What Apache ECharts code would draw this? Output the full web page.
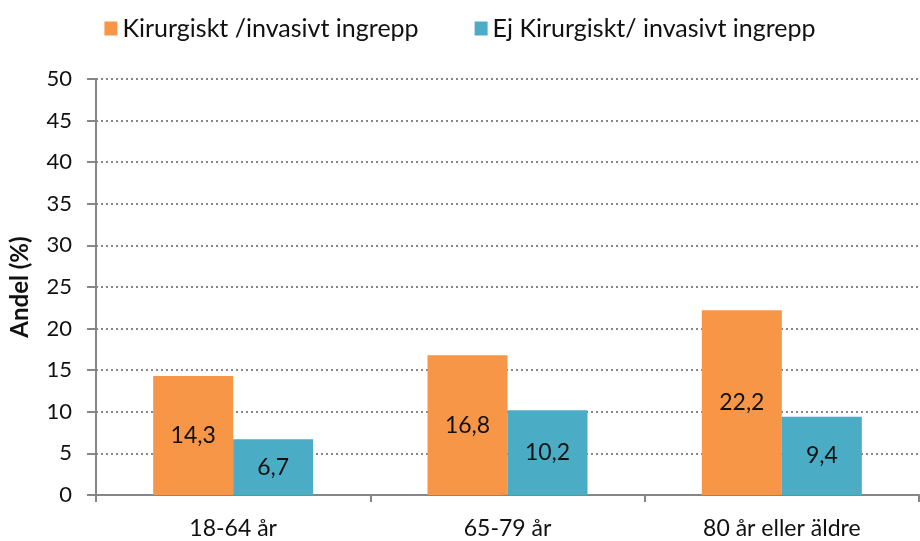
<!DOCTYPE html>
<html><head><meta charset="utf-8">
<script src="https://cdn.jsdelivr.net/npm/echarts@6/dist/echarts.min.js"></script>
<style>html,body{margin:0;padding:0;background:#fff}#c{width:920px;height:541px}</style>
</head><body><div id="c"></div>
<script>
const categories = ['18-64 år', '65-79 år', '80 år eller äldre'];
const seriesNames = ['Kirurgiskt /invasivt ingrepp', 'Ej Kirurgiskt/ invasivt ingrepp'];
const kirurgiskt = [14.3, 16.8, 22.2];
const ejKirurgiskt = [6.7, 10.2, 9.4];
const fmt = v => String(v.value).replace('.', ',');
const font = 'Lato, "Open Sans", sans-serif';
const chart = echarts.init(document.getElementById('c'), null, {renderer: 'canvas'});
const lbl = {show: true, position: 'inside', formatter: fmt, color: '#111', fontSize: 23, fontFamily: font};
chart.setOption({
  animation: false,
  textStyle: {fontFamily: font},
  legend: {
    top: 11, left: 'center', itemGap: 56, itemWidth: 13, itemHeight: 14,
    icon: 'rect',
    textStyle: {fontSize: 25, color: '#111', fontFamily: font},
    data: seriesNames
  },
  grid: {left: 96, right: 1, top: 79, bottom: 46, containLabel: false},
  xAxis: {
    type: 'category', data: categories,
    axisLine: {lineStyle: {color: '#868686', width: 2}},
    axisTick: {show: true, length: 7, lineStyle: {color: '#868686', width: 2}},
    axisLabel: {fontSize: 23, color: '#111', margin: 22, fontFamily: font}
  },
  yAxis: {
    type: 'value', min: 0, max: 50, interval: 5,
    name: 'Andel (%)', nameLocation: 'middle', nameGap: 64, nameRotate: 90,
    nameTextStyle: {fontSize: 24, fontWeight: 'bold', color: '#111', fontFamily: font},
    axisLine: {show: true, lineStyle: {color: '#868686', width: 2}},
    axisTick: {show: true, length: 9, lineStyle: {color: '#868686', width: 2}},
    axisLabel: {fontSize: 22, color: '#111', margin: 24, fontFamily: font},
    splitLine: {show: true, lineStyle: {color: '#868686', width: 2, type: [2, 3]}}
  },
  series: [
    {name: seriesNames[0], type: 'bar', data: kirurgiskt, barWidth: 80, barGap: '0%',
     itemStyle: {color: '#F79646'}, label: lbl},
    {name: seriesNames[1], type: 'bar', data: ejKirurgiskt, barWidth: 80, barGap: '0%',
     itemStyle: {color: '#4BACC6'}, label: lbl}
  ]
});
</script></body></html>
